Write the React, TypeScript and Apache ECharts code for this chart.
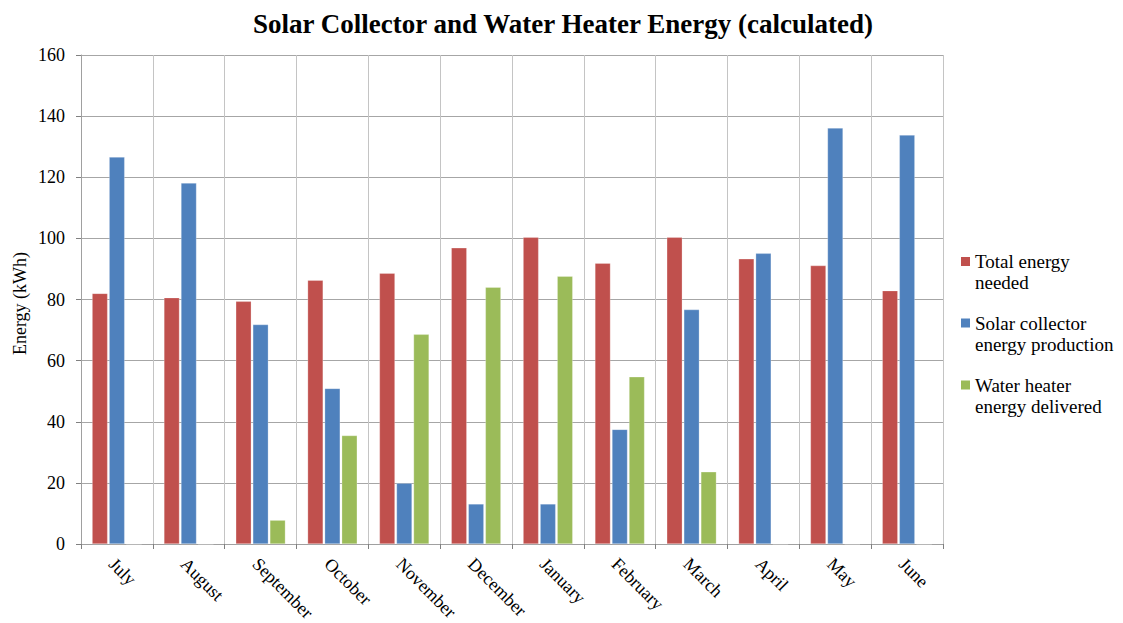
import React, { useEffect, useRef } from "react";
import * as echarts from "echarts";

const months = ["July", "August", "September", "October", "November", "December", "January", "February", "March", "April", "May", "June"];
const totalNeeded = [82.0, 80.6, 79.4, 86.3, 88.6, 96.9, 100.4, 91.9, 100.4, 93.3, 91.1, 82.9];
const solarProduction = [126.6, 118.1, 71.8, 50.9, 19.9, 13.1, 13.1, 37.5, 76.7, 95.1, 136.1, 133.8];
const heaterDelivered = [0, 0, 7.8, 35.5, 68.6, 84.0, 87.6, 54.7, 23.6, 0, 0, 0];
const yTicks = { min: 0, max: 160, interval: 20 };

const seriesNames = ["Total energy needed", "Solar collector energy production", "Water heater energy delivered"];
const legendLines = [
  ["Total energy", "needed"],
  ["Solar collector", "energy production"],
  ["Water heater", "energy delivered"],
];
const yAxisName = "Energy (kWh)";
const titleText = "Solar Collector and Water Heater Energy (calculated)";
const colors = ["#C0504D", "#4F81BD", "#9BBB59"];

const FONT = "Liberation Serif";

export default function App() {
  const ref = useRef<HTMLDivElement>(null);
  useEffect(() => {
    if (!ref.current) return;
    const chart = echarts.init(ref.current, null, { renderer: "svg" });
    const data = [totalNeeded, solarProduction, heaterDelivered];
    chart.setOption({
      animation: false,
      backgroundColor: "#ffffff",
      textStyle: { fontFamily: FONT },
      title: {
        text: titleText,
        left: 558,
        textAlign: "center",
        top: 5,
        textStyle: { fontFamily: FONT, fontSize: 27, fontWeight: "bold", color: "#000" },
      },
      legend: { show: false, data: seriesNames },
      grid: { left: 81, right: 180, top: 55, bottom: 79, containLabel: false },
      xAxis: {
        type: "category",
        data: months,
        boundaryGap: true,
        axisLine: { show: true, lineStyle: { color: "#a0a0a0", width: 1 } },
        axisTick: { show: true, length: 5, alignWithLabel: false, lineStyle: { color: "#808080" } },
        splitLine: { show: true, interval: 0, lineStyle: { color: "#c4c4c4", width: 1 } },
        axisLabel: { show: false },
      },
      yAxis: {
        type: "value",
        min: yTicks.min,
        max: yTicks.max,
        interval: yTicks.interval,
        axisLine: { show: true, lineStyle: { color: "#a0a0a0" } },
        axisTick: { show: true, length: 5, lineStyle: { color: "#808080" } },
        splitLine: { show: true, lineStyle: { color: "#a6a6a6", width: 1 } },
        axisLabel: { margin: 16, fontFamily: FONT, fontSize: 18, color: "#000" },
      },
      series: seriesNames.map((name, i) => ({
        name,
        type: "bar",
        data: data[i],
        barWidth: 15.5,
        barGap: "10%",
        itemStyle: { color: colors[i], borderColor: "rgba(255,255,255,0.5)", borderWidth: 0.5 },
      })),
    });

    const y0 = chart.convertToPixel({ yAxisIndex: 0 }, 0) as number;
    const yTop = chart.convertToPixel({ yAxisIndex: 0 }, yTicks.max) as number;
    const graphics: any[] = [];
    months.forEach((m, i) => {
      const cx = chart.convertToPixel({ xAxisIndex: 0 }, i) as number;
      graphics.push({
        type: "text",
        x: cx - 5,
        y: y0 + 17,
        rotation: -Math.PI / 4,
        silent: true,
        style: { text: m, fontFamily: FONT, fontSize: 18, fill: "#000", align: "left", verticalAlign: "middle" },
      });
    });
    graphics.push({
      type: "text",
      x: 19.5,
      y: (y0 + yTop) / 2 + 4,
      rotation: Math.PI / 2,
      silent: true,
      style: { text: yAxisName, fontFamily: FONT, fontSize: 18, fill: "#000", align: "center", verticalAlign: "middle" },
    });
    const rowY = [261.5, 323, 385];
    legendLines.forEach((lines, i) => {
      graphics.push({
        type: "rect",
        silent: true,
        shape: { x: 961, y: rowY[i] - 4.5, width: 9, height: 9 },
        style: { fill: colors[i] },
      });
      lines.forEach((t, j) => {
        graphics.push({
          type: "text",
          x: 975,
          y: rowY[i] + j * 21,
          silent: true,
          style: { text: t, fontFamily: FONT, fontSize: 19, fill: "#000", align: "left", verticalAlign: "middle" },
        });
      });
    });
    chart.setOption({ graphic: graphics });
    return () => chart.dispose();
  }, []);
  return (
    <div
      ref={ref}
      style={{ width: 1123, height: 623, position: "fixed", left: 0, top: 0, background: "#fff" }}
    />
  );
}
